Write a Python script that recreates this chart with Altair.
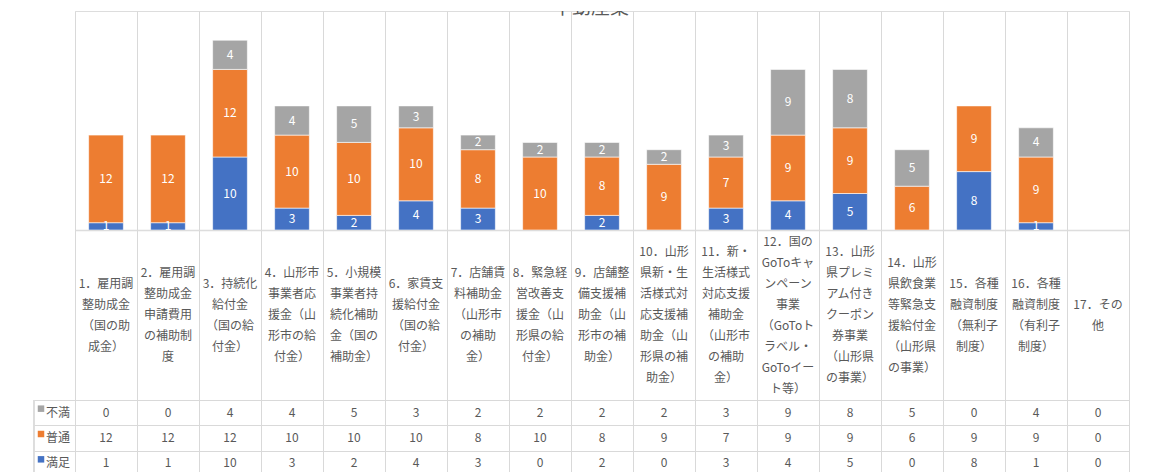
import altair as alt
import pandas as pd

title_text = "不動産業"

cat_ids = [str(i) for i in range(1, 18)]
cat_labels = [
    "1．雇用調\n整助成金\n（国の助\n成金）",
    "2．雇用調\n整助成金\n申請費用\nの補助制\n度",
    "3．持続化\n給付金\n（国の給\n付金）",
    "4．山形市\n事業者応\n援金（山\n形市の給\n付金）",
    "5．小規模\n事業者持\n続化補助\n金（国の\n補助金）",
    "6．家賃支\n援給付金\n（国の給\n付金）",
    "7．店舗賃\n料補助金\n（山形市\nの補助\n金）",
    "8．緊急経\n営改善支\n援金（山\n形県の給\n付金）",
    "9．店舗整\n備支援補\n助金（山\n形市の補\n助金）",
    "10．山形\n県新・生\n活様式対\n応支援補\n助金（山\n形県の補\n助金）",
    "11．新・\n生活様式\n対応支援\n補助金\n（山形市\nの補助\n金）",
    "12．国の\nGoToキャ\nンペーン\n事業\n（GoToト\nラベル・\nGoToイー\nト等）",
    "13．山形\n県プレミ\nアム付き\nクーポン\n券事業\n（山形県\nの事業）",
    "14．山形\n県飲食業\n等緊急支\n援給付金\n（山形県\nの事業）",
    "15．各種\n融資制度\n（無利子\n制度）",
    "16．各種\n融資制度\n（有利子\n制度）",
    "17．その\n他",
]

series_names = ["満足", "普通", "不満"]          # stacking order bottom -> top
series_colors = ["#4472C4", "#ED7D31", "#A5A5A5"]
table_rows = ["不満", "普通", "満足"]             # table order top -> bottom

manzoku = [1, 1, 10, 3, 2, 4, 3, 0, 2, 0, 3, 4, 5, 0, 8, 1, 0]
futsu = [12, 12, 12, 10, 10, 10, 8, 10, 8, 9, 7, 9, 9, 6, 9, 9, 0]
fuman = [0, 0, 4, 4, 5, 3, 2, 2, 2, 2, 3, 9, 8, 5, 0, 4, 0]

values_by_series = {"満足": manzoku, "普通": futsu, "不満": fuman}

rows = []
for s_i, s in enumerate(series_names):
    for c, v in zip(cat_ids, values_by_series[s]):
        rows.append({"cat": c, "series": s, "value": v, "ord": s_i})
df = pd.DataFrame(rows)
labels_df = pd.DataFrame({"cat": cat_ids, "label": cat_labels})
legend_df = pd.DataFrame({"series": series_names})

FONT = "Noto Sans CJK JP"
GRID = "#d9d9d9"
TXT = "#595959"
W = 1054
LABEL_H = 170
LINE_H = 21

color_scale = alt.Scale(domain=series_names, range=series_colors)


def xenc(domain_line=False):
    return alt.X(
        "cat:N",
        sort=cat_ids,
        scale=alt.Scale(type="band", domain=cat_ids, paddingInner=0, paddingOuter=0),
        axis=alt.Axis(
            title=None, labels=False, ticks=False, grid=True, gridColor=GRID,
            gridWidth=1, tickBand="extent", domain=domain_line,
            domainColor=GRID, domainWidth=1.5,
        ),
    )


# ---------- Panel A: stacked bars ----------
stacked = alt.Chart(df).transform_filter("datum.value > 0").transform_stack(
    stack="value", as_=["v0", "v1"], groupby=["cat"],
    sort=[alt.SortField("ord", order="ascending")],
).transform_calculate(mid="(datum.v0 + datum.v1) / 2")

bars = stacked.mark_bar(width=alt.RelativeBandSize(0.56), stroke="white", strokeWidth=0.6).encode(
    x=xenc(domain_line=True),
    y=alt.Y("v0:Q", scale=alt.Scale(domain=[0, 30]), axis=None),
    y2="v1:Q",
    color=alt.Color("series:N", scale=color_scale, legend=None),
)
bar_text = stacked.mark_text(color="white", fontSize=12, font=FONT, baseline="middle").encode(
    x=xenc(domain_line=True),
    y=alt.Y("mid:Q", scale=alt.Scale(domain=[0, 30]), axis=None),
    text="value:Q",
)
title_mark = alt.Chart(pd.DataFrame({"t": [title_text]})).mark_text(
    clip=True, fontSize=19, font=FONT, color=TXT, baseline="alphabetic", align="center"
).encode(x=alt.value(516), y=alt.value(3), text="t:N")

panelA = alt.layer(bars, bar_text, title_mark).properties(width=W, height=219)

# ---------- Panel B: category labels (vertically centred blocks) ----------
half_lines = LABEL_H / LINE_H / 2
panelB = alt.Chart(labels_df).transform_calculate(
    off="(split(datum.label, '\\n').length - 1) / 2"
).mark_text(
    lineBreak="\n", fontSize=12, font=FONT, color=TXT, lineHeight=LINE_H,
    align="center", baseline="middle",
).encode(
    x=xenc(),
    y=alt.Y("off:Q", scale=alt.Scale(domain=[-half_lines, half_lines]), axis=None),
    text="label:N",
).properties(width=W, height=LABEL_H)

# ---------- Panel C: data table ----------
yrows = alt.Y(
    "series:N", sort=table_rows,
    scale=alt.Scale(type="band", domain=table_rows, paddingInner=0, paddingOuter=0),
    axis=alt.Axis(
        title=None, labels=False, domain=False, grid=True, gridColor=GRID,
        tickBand="extent", ticks=True, tickSize=41, tickColor=GRID, tickWidth=1,
    ),
)
cells = alt.Chart(df).mark_text(fontSize=12, font=FONT, color=TXT, baseline="middle").encode(
    x=xenc(), y=yrows, text="value:Q"
)
squares = alt.Chart(legend_df).mark_square(size=42, opacity=1, yOffset=-4).encode(
    x=alt.value(-34), y=yrows,
    color=alt.Color("series:N", scale=color_scale, legend=None),
)
row_labels = alt.Chart(legend_df).mark_text(
    fontSize=12, font=FONT, color=TXT, align="left", baseline="middle"
).encode(x=alt.value(-29), y=yrows, text="series:N")
left_edge = alt.Chart(legend_df).mark_rule(color=GRID, strokeWidth=1).encode(
    x=alt.value(-41), y=alt.value(0), y2=alt.value(76)
)
panelC = alt.layer(cells, squares, row_labels, left_edge).properties(width=W, height=76)

chart = alt.vconcat(panelA, panelB, panelC, spacing=0, bounds="flush").properties(
    padding={"left": 25, "top": 2, "right": 5, "bottom": 0}
).configure_view(stroke=None).configure(font=FONT)

chart.save("out.html", embed_options={"renderer": "svg", "actions": False})
